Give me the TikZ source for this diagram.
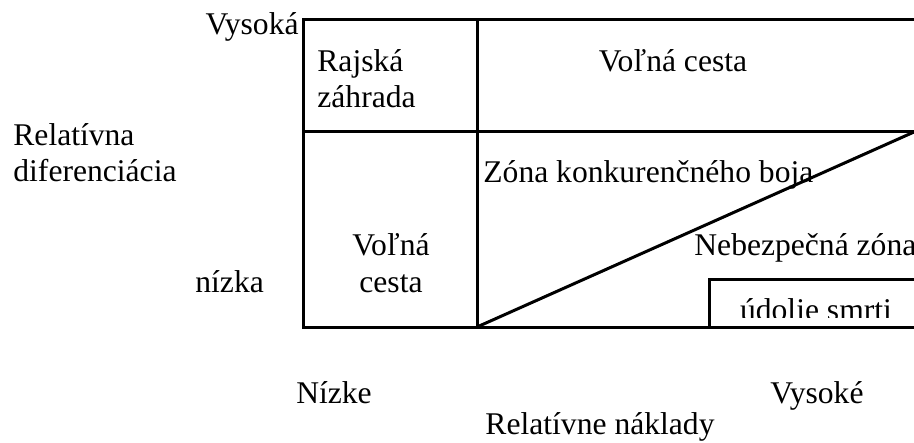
\documentclass[tikz,border=0pt]{standalone}
\usepackage{fontspec}
\setmainfont{Liberation Serif}
\usetikzlibrary{positioning}

\begin{document}
\begin{tikzpicture}[x=0.5pt, y=-0.5pt,
  lbl/.style={inner sep=0pt, font=\fontsize{15.8}{18.4}\selectfont},
  wall/.style={line width=1.5pt}]
  \useasboundingbox (0,0) rectangle (914,443);

  \coordinate (tl) at (303,20);
  \coordinate (tm) at (477,20);
  \coordinate (tr) at (914,20);
  \coordinate (ml) at (303,132);
  \coordinate (mr) at (914,132);
  \coordinate (bl) at (303,327);
  \coordinate (bm) at (477,327);
  \coordinate (br) at (914,327);
  \coordinate (ubl) at (709,327);
  \coordinate (utl) at (709,279);
  \coordinate (utr) at (914,279);

  \draw[wall] (tr) -- (tl) -- (bl) -- (br);
  \draw[wall] (tm) -- (bm);
  \draw[wall] (ml) -- (mr);
  \draw[wall] (bm) -- (mr);
  \draw[wall] (ubl) -- (utl) -- (utr);

  \node[lbl, anchor=base east] (vys) at (299,35) {Vysoká};
  \node[lbl, anchor=base west, align=left] (rajska) at (317,108) {Rajská\\záhrada};
  \node[lbl, anchor=base] (volna1) at (673,72) {Voľná cesta};
  \node[lbl, anchor=base west, align=left] (reldif) at (13,182) {Relatívna\\diferenciácia};
  \node[lbl, anchor=base west] (zona) at (483,183) {Zóna konkurenčného boja};
  \node[lbl, anchor=base, align=center] (volna2) at (391,292) {Voľná\\cesta};
  \node[lbl, anchor=base west] (nizka) at (195,292) {nízka};
  \node[lbl, anchor=base west] (nebez) at (694,255) {Nebezpečná zóna};
  \begin{scope}
    \clip (utl) rectangle (914,317);
    \node[lbl, anchor=base] (udolie) at (816,320) {údolie smrti};
  \end{scope}

  \node[lbl, anchor=base] (nizke) at (334,403) {Nízke};
  \node[lbl, anchor=base] (vysoke) at (817,403) {Vysoké};
  \node[lbl, anchor=base] (relnakl) at (600,434) {Relatívne náklady};

\end{tikzpicture}
\end{document}
